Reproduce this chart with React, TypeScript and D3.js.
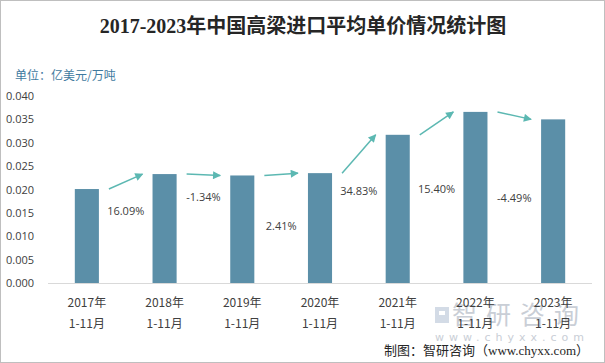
import { useRef, useEffect } from "react";
import * as d3 from "d3";

const years = ["2017年", "2018年", "2019年", "2020年", "2021年", "2022年", "2023年"];
const period = "1-11月";
const prices = [0.0201, 0.0233, 0.023, 0.0235, 0.0317, 0.0366, 0.035];
const growth = ["16.09%", "-1.34%", "2.41%", "34.83%", "15.40%", "-4.49%"];
// hidden helper series: where each growth label sits, in value units
const growthLabelAt = [0.0154, 0.0184, 0.0122, 0.0197, 0.0201, 0.0182];
const yTicks = [0, 0.005, 0.01, 0.015, 0.02, 0.025, 0.03, 0.035, 0.04];

export default function App() {
  const svgRef = useRef<SVGSVGElement>(null);

  useEffect(() => {
    if (!svgRef.current) return;
    const width = 605;
    const height = 363;
    const margin = { top: 96, right: 13, bottom: 80, left: 48 };

    const svg = d3.select(svgRef.current);
    svg.selectAll("*").remove();
    svg.attr("width", width).attr("height", height);

    svg
      .append("rect")
      .attr("x", 0.5)
      .attr("y", 0.5)
      .attr("width", width - 1)
      .attr("height", height - 1)
      .attr("fill", "#fff")
      .attr("stroke", "#bfbfbf");

    const x = d3
      .scaleBand()
      .domain(years)
      .range([margin.left, width - margin.right])
      .paddingInner(0.69)
      .paddingOuter(0.345);

    const y = d3
      .scaleLinear()
      .domain([0, 0.04])
      .range([height - margin.bottom, margin.top]);

    // title
    svg
      .append("text")
      .attr("x", 303)
      .attr("y", 33)
      .attr("text-anchor", "middle")
      .attr("font-family", "'Liberation Serif', 'Noto Sans CJK SC', serif")
      .attr("font-size", 20)
      .attr("font-weight", "bold")
      .attr("fill", "#262626")
      .text("2017-2023年中国高梁进口平均单价情况统计图");

    svg
      .append("text")
      .attr("x", 15)
      .attr("y", 80)
      .attr("font-family", "'Noto Sans CJK SC', sans-serif")
      .attr("font-size", 12)
      .attr("fill", "#3f7aa0")
      .text("单位：亿美元/万吨");

    // watermark
    const wm = svg.append("g").attr("fill", "#c9ced6");
    wm.append("rect").attr("x", 435).attr("y", 307).attr("width", 14).attr("height", 16).attr("fill", "#d3dbe6");
    wm.append("rect").attr("x", 439).attr("y", 311).attr("width", 6).attr("height", 4).attr("fill", "#fff");
    wm.append("text")
      .attr("x", 452)
      .attr("y", 324)
      .attr("font-family", "'Noto Sans CJK SC', sans-serif")
      .attr("font-size", 25)
      .attr("letter-spacing", 9)
      .text("智研咨询");
    wm.append("text")
      .attr("x", 435)
      .attr("y", 341)
      .attr("font-family", "'DejaVu Sans', sans-serif")
      .attr("font-size", 11)
      .attr("letter-spacing", 5)
      .text("www.chyxx.com");

    // y axis labels
    svg
      .append("g")
      .selectAll("text")
      .data(yTicks)
      .enter()
      .append("text")
      .attr("x", 6)
      .attr("y", (d) => y(d) + 4)
      .attr("font-family", "'Open Sans', 'Liberation Sans', sans-serif")
      .attr("font-size", 11)
      .attr("fill", "#404040")
      .text((d) => d3.format(".3f")(d));

    // bars
    svg
      .append("g")
      .selectAll("rect")
      .data(prices)
      .enter()
      .append("rect")
      .attr("x", (_, i) => x(years[i]) || 0)
      .attr("y", (d) => y(d))
      .attr("width", x.bandwidth())
      .attr("height", (d) => y(0) - y(d))
      .attr("fill", "#5b8fa8");

    // x axis line
    svg
      .append("line")
      .attr("x1", margin.left)
      .attr("x2", width - margin.right)
      .attr("y1", y(0) + 0.5)
      .attr("y2", y(0) + 0.5)
      .attr("stroke", "#d9d9d9");

    // x labels
    const xl = svg
      .append("g")
      .selectAll("text")
      .data(years)
      .enter()
      .append("text")
      .attr("text-anchor", "middle")
      .attr("font-family", "'Noto Sans CJK SC', sans-serif")
      .attr("font-size", 12)
      .attr("fill", "#404040");
    xl.append("tspan")
      .attr("x", (d) => (x(d) || 0) + x.bandwidth() / 2)
      .attr("y", 307)
      .text((d) => d);
    xl.append("tspan")
      .attr("x", (d) => (x(d) || 0) + x.bandwidth() / 2)
      .attr("y", 328)
      .text(period);

    // arrows
    const defs = svg.append("defs");
    defs
      .append("marker")
      .attr("id", "arrowHead")
      .attr("viewBox", "0 0 10 10")
      .attr("refX", 9)
      .attr("refY", 5)
      .attr("markerWidth", 10)
      .attr("markerHeight", 8)
      .attr("markerUnits", "userSpaceOnUse")
      .attr("orient", "auto")
      .append("path")
      .attr("d", "M0,0L10,5L0,10Z")
      .attr("fill", "#5cb8b2");

    const arrows = growth.map((g, i) => ({
      g,
      x1: (x(years[i]) || 0) + x.bandwidth() + 10,
      y1: y(prices[i]),
      x2: (x(years[i + 1]) || 0) - 10,
      y2: y(prices[i + 1]),
      mid: (x(years[i]) || 0) + x.bandwidth() / 2 + x.step() / 2,
      ly: y(growthLabelAt[i]),
    }));

    svg
      .append("g")
      .selectAll("line")
      .data(arrows)
      .enter()
      .append("line")
      .attr("x1", (d) => d.x1)
      .attr("y1", (d) => d.y1)
      .attr("x2", (d) => d.x2)
      .attr("y2", (d) => d.y2)
      .attr("stroke", "#5cb8b2")
      .attr("stroke-width", 1.5)
      .attr("marker-end", "url(#arrowHead)");

    svg
      .append("g")
      .selectAll("text")
      .data(arrows)
      .enter()
      .append("text")
      .attr("x", (d) => d.mid)
      .attr("y", (d) => d.ly + 4)
      .attr("text-anchor", "middle")
      .attr("font-family", "'Open Sans', 'Liberation Sans', sans-serif")
      .attr("font-size", 11)
      .attr("fill", "#404040")
      .text((d) => d.g);

    // source
    svg
      .append("text")
      .attr("x", 589)
      .attr("y", 355)
      .attr("text-anchor", "end")
      .attr("font-family", "'Liberation Serif', 'Noto Sans CJK SC', serif")
      .attr("font-size", 13)
      .attr("fill", "#262626")
      .text("制图：智研咨询（www.chyxx.com）");
  }, []);

  return (
    <div style={{ position: "absolute", left: 0, top: 0 }}>
      <svg ref={svgRef} style={{ display: "block" }} />
    </div>
  );
}
